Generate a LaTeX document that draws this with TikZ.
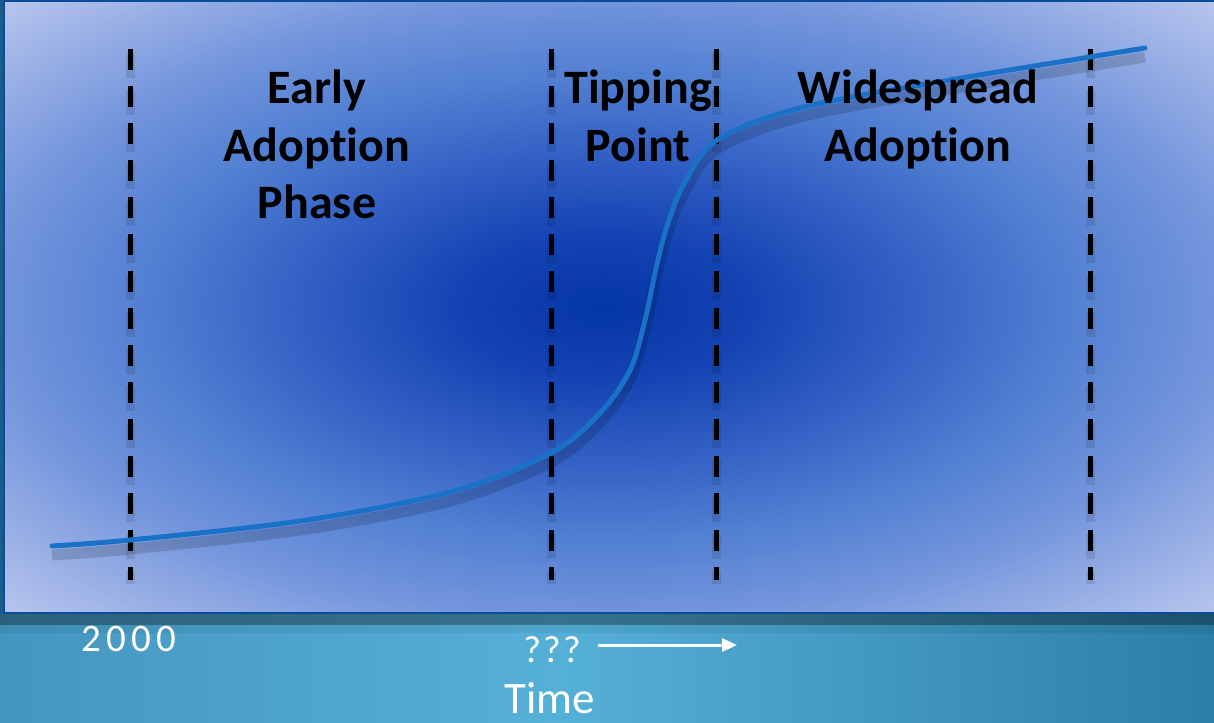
\documentclass[tikz,border=0pt]{standalone}
\usepackage{fontspec}
\setmainfont{Carlito}[Ligatures={NoCommon}]
\usetikzlibrary{arrows.meta}
\definecolor{c0}{HTML}{0536A6}
\definecolor{c1}{HTML}{1444B4}
\definecolor{c2}{HTML}{3360C4}
\definecolor{c3}{HTML}{5280D2}
\definecolor{c4}{HTML}{7294DC}
\definecolor{c5}{HTML}{94ACE4}
\definecolor{c6}{HTML}{B8C6EE}
\definecolor{tealL}{HTML}{4496C0}
\definecolor{tealM}{HTML}{55B0D8}
\definecolor{tealR}{HTML}{2C7EA6}
\definecolor{edgeblue}{HTML}{0A4C9C}
\definecolor{stripblue}{HTML}{1C5C8A}
\definecolor{curveblue}{HTML}{1A72C8}
\pgfdeclareradialshading{bgblue}{\pgfpoint{-0.35bp}{0bp}}{color(0bp)=(c0); color(6bp)=(c1); color(12.5bp)=(c2); color(19bp)=(c3); color(25bp)=(c4); color(30bp)=(c5); color(35.5bp)=(c6)}
\tikzset{
  vdash/.style={draw=black, line width=5pt, dash pattern=on 21pt off 16pt},
  vdashshadow/.style={draw=black, opacity=0.1, line width=9pt, dash pattern=on 25pt off 12pt},
  curveline/.style={draw=curveblue, line width=5pt, line cap=round},
  curveshadow/.style={draw=black, opacity=0.15, line width=11pt},
  head/.style={font=\fontsize{48}{57}\selectfont\bfseries, text=black, anchor=base, inner sep=0pt},
  foot/.style={text=white, anchor=base, inner sep=0pt},
}
\begin{document}
\begin{tikzpicture}[x=1pt,y=-1pt]
\useasboundingbox (0,0) rectangle (1214,722);
% background band
\shade[left color=tealL, right color=tealM] (0,600) rectangle (560,722);
\shade[left color=tealM, right color=tealR] (559.5,600) rectangle (1214,722);
\fill[black, opacity=0.35] (0,613) rectangle (1214,625);
\fill[black, opacity=0.06] (0,625) rectangle (1214,633);
\fill[stripblue] (0,0) rectangle (4,614);
% main panel
\path[shading=bgblue] (4,1) rectangle (1216,613);
\draw[edgeblue, line width=2pt] (4,1) rectangle (1216,613);
% vertical dashed lines
\foreach \x/\n in {130/a, 551/b, 716/c, 1090/d} {
  \coordinate (\n top) at (\x,49);
  \coordinate (\n bot) at (\x,580);
  \draw[vdashshadow] ([yshift=-4pt]\n top) -- ([yshift=-4pt]\n bot);
  \draw[vdash] (\n top) -- (\n bot);
}
% S-curve
\def\curvepts{(52,546) (130,540) (300,521) (450,492) (551,453) (600,413) (630,370) (645,320) (656,268) (667,226) (684,184) (717,140) (800,108) (950,80) (1090,57) (1145,48)}
\begin{scope}[yshift=-9pt]
\draw[curveshadow] plot[smooth, tension=0.55] coordinates {\curvepts};
\end{scope}
\draw[curveline] plot[smooth, tension=0.55] coordinates {\curvepts};
% headings
\node[head] (early1) at (317,104) {Early};
\node[head] (early2) at (317,161) {Adoption};
\node[head] (early3) at (317,218) {Phase};
\node[head] (tip1) at (638,104) {Tipping};
\node[head] (tip2) at (638,161) {Point};
\node[head] (wide1) at (918,104) {Widespread};
\node[head] (wide2) at (918,161) {Adoption};
% footer texts
\node[foot, font=\fontsize{39}{44}\selectfont\addfontfeatures{LetterSpace=13}] (year) at (129,651) {2000};
\node[foot, font=\fontsize{38}{44}\selectfont\addfontfeatures{LetterSpace=6}] (qq) at (552,662) {???};
\node[foot, text depth=0pt, font=\fontsize{45}{52}\selectfont] (time) at (550,713) {Time};
\coordinate (arrS) at (598,645);
\coordinate (arrE) at (737,645);
\draw[white, line width=3pt, -{Triangle[length=15pt, width=13pt]}] (arrS) -- (arrE);
\end{tikzpicture}
\end{document}
